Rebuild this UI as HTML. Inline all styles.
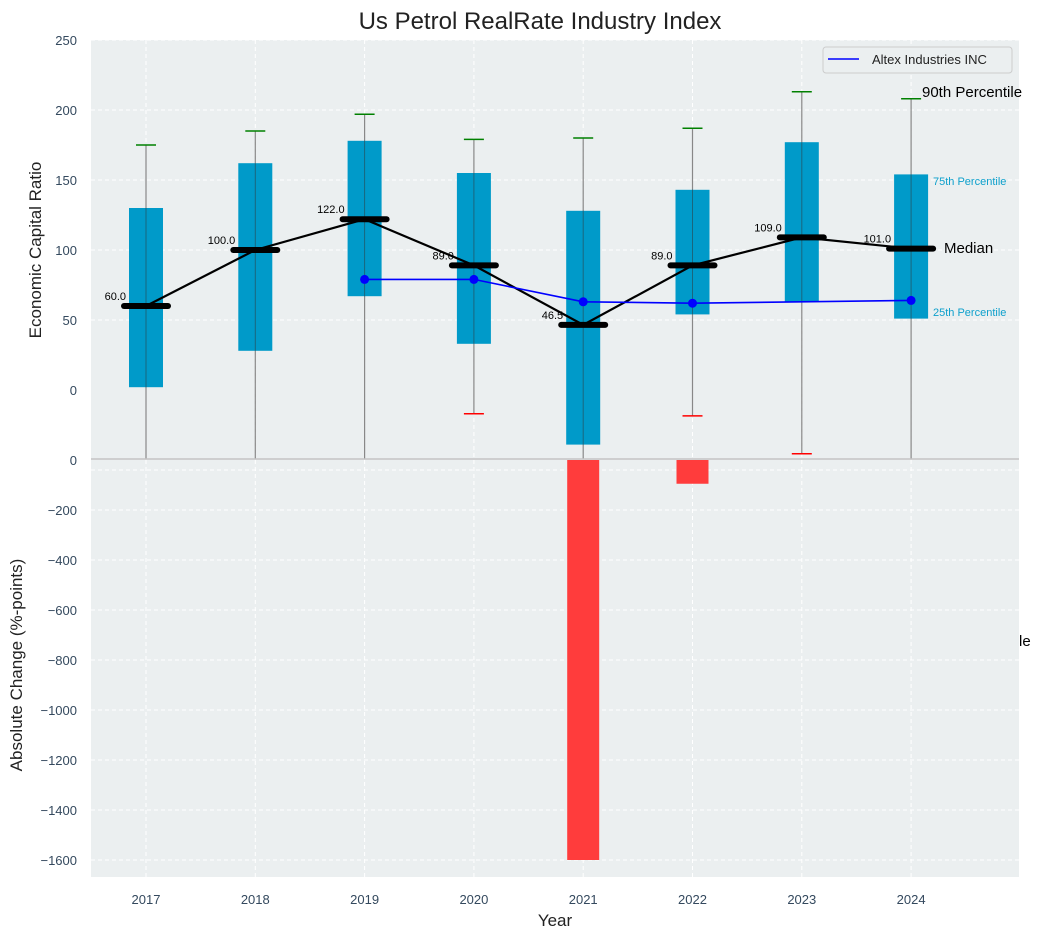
<!DOCTYPE html>
<html><head><meta charset="utf-8"><style>
body{margin:0;background:#fff;}
svg{display:block;font-family:"Liberation Sans",Arial,sans-serif;}
</style></head><body>
<svg id="chart" width="1043" height="940"></svg>
<script>
const years=[2017,2018,2019,2020,2021,2022,2023,2024];
const p25=[2,28,67,33,-39,54,63,51];
const p75=[130,162,178,155,128,143,177,154];
const p90=[175,185,197,179,180,187,213,208];
const p10=[-80,-80,-80,-17,-80,-18.5,-45.5,-80];
const medians=[60,100,122,89,46.5,89,109,101];
const altex=[null,null,79,79,63,62,63,64];
const altexMarker=[false,false,true,true,true,true,false,true];
const changes=[0,0,0,0,-1600,-95,0,0];
const topTicks=[0,50,100,150,200,250];
const botTicks=[0,-200,-400,-600,-800,-1000,-1200,-1400,-1600];

const NS="http://www.w3.org/2000/svg";
const svg=document.getElementById('chart');
function mk(t,a,p){const e=document.createElementNS(NS,t);for(const k in a)e.setAttribute(k,a[k]);(p||svg).appendChild(e);return e;}
const L=91,R=1019,T=40,MID=459,B=877;
const x=i=>146+i*109.3;
const yT=v=>390-v*1.4;
const yB=v=>460-v*0.25;
const defs=mk('defs',{});
const cp=mk('clipPath',{id:'ct'},defs);mk('rect',{x:L,y:T,width:R-L,height:MID-T},cp);
const cb=mk('clipPath',{id:'cb'},defs);mk('rect',{x:L,y:MID,width:R-L,height:B-MID},cb);
let e=mk('rect',{x:L,y:T,width:R-L,height:B-T,fill:'#ebeff0'});

years.forEach((yr,i)=>{mk('line',{x1:x(i),x2:x(i),y1:T,y2:B,stroke:'#fff','stroke-dasharray':'4,3','stroke-width':1});});
topTicks.forEach(v=>{if(v>0)mk('line',{x1:L,x2:R,y1:yT(v),y2:yT(v),stroke:'#fff','stroke-dasharray':'4,3'});
 let t=mk('text',{x:77,y:yT(v)+5,'text-anchor':'end','font-size':13,fill:'#34495e'});t.textContent=v;
 });
mk('line',{x1:L,x2:R,y1:yT(-50)+10,y2:yT(-50)+10,stroke:'#fff','stroke-dasharray':'4,3'});
botTicks.forEach(v=>{if(v<0)mk('line',{x1:L,x2:R,y1:yB(v),y2:yB(v),stroke:'#fff','stroke-dasharray':'4,3'});
 let t=mk('text',{x:77,y:yB(v)+5,'text-anchor':'end','font-size':13,fill:'#34495e'});t.textContent=String(v).replace('-','\u2212');
 });
const gT=mk('g',{'clip-path':'url(#ct)'});
years.forEach((yr,i)=>{
 mk('line',{x1:x(i),x2:x(i),y1:yT(p90[i]),y2:yT(p10[i]),stroke:'#888','stroke-width':1.2},gT);
 e=mk('rect',{x:x(i)-17,y:yT(p75[i]),width:34,height:(p75[i]-p25[i])*1.4,fill:'#009ac9'},gT);
 
 mk('line',{x1:x(i),x2:x(i),y1:yT(p75[i]),y2:yT(p25[i]),stroke:'#333','stroke-width':1,opacity:0.5},gT);
 mk('line',{x1:x(i)-10,x2:x(i)+10,y1:yT(p90[i]),y2:yT(p90[i]),stroke:'green','stroke-width':1.5},gT);
 mk('line',{x1:x(i)-10,x2:x(i)+10,y1:yT(p10[i]),y2:yT(p10[i]),stroke:'red','stroke-width':1.5},gT);
});
let pts=medians.map((m,i)=>x(i)+','+yT(m)).join(' ');
e=mk('polyline',{points:pts,fill:'none',stroke:'#000','stroke-width':2.2},gT);

medians.forEach((m,i)=>{
 mk('line',{x1:x(i)-22,x2:x(i)+22,y1:yT(m),y2:yT(m),stroke:'#000','stroke-width':6,'stroke-linecap':'round'},gT);
 let t=mk('text',{x:x(i)-20,y:yT(m)-6,'text-anchor':'end','font-size':11,fill:'#000'},gT);t.textContent=m.toFixed(1);
 
});
let ap=[];altex.forEach((v,i)=>{if(v!==null)ap.push(x(i)+','+yT(v));});
e=mk('polyline',{points:ap.join(' '),fill:'none',stroke:'#0000ff','stroke-width':1.6},gT);

altex.forEach((v,i)=>{if(v!==null&&altexMarker[i]){e=mk('circle',{cx:x(i),cy:yT(v),r:4.5,fill:'#0000ff'},gT);
 }});
const gB=mk('g',{'clip-path':'url(#cb)'});
changes.forEach((c,i)=>{if(c!==0){const y0=yB(0),y1=yB(c);
 e=mk('rect',{x:x(i)-16,y:Math.min(y0,y1),width:32,height:Math.abs(y1-y0),fill:'#ff3c3c'},gB);
 }});
mk('line',{x1:L,x2:R,y1:MID,y2:MID,stroke:'#c4c4c4','stroke-width':1.5});
years.forEach((yr,i)=>{let t=mk('text',{x:x(i),y:904,'text-anchor':'middle','font-size':13,fill:'#34495e'});t.textContent=yr;
 });
</script>
<svg width="1043" height="940" style="position:absolute;left:0;top:0">
<text x="540" y="29" text-anchor="middle" font-size="24" fill="#222" font-family="Liberation Sans,sans-serif">Us Petrol RealRate Industry Index</text>
<text x="555" y="926" text-anchor="middle" font-size="17" fill="#222" font-family="Liberation Sans,sans-serif">Year</text>
<text transform="translate(41,250) rotate(-90)" text-anchor="middle" font-size="17" fill="#222" font-family="Liberation Sans,sans-serif">Economic Capital Ratio</text>
<text transform="translate(22,665) rotate(-90)" text-anchor="middle" font-size="17" fill="#222" font-family="Liberation Sans,sans-serif">Absolute Change (%-points)</text>
<g font-family="Liberation Sans,sans-serif">
<rect x="823" y="47" width="189" height="26" rx="3" fill="#ebeff0" stroke="#ccc"/>
<line x1="828" x2="859" y1="59" y2="59" stroke="#0000ff" stroke-width="1.6"/>
<text x="872" y="64" font-size="13" fill="#222">Altex Industries INC</text>
</g>
<g font-family="Liberation Sans,sans-serif">
<text x="922" y="97" font-size="15" fill="#000">90th Percentile</text>
<text x="933" y="185" font-size="11" fill="#0ea0cc">75th Percentile</text>
<text x="944" y="253" font-size="15" fill="#000">Median</text>
<text x="933" y="316" font-size="11" fill="#0ea0cc">25th Percentile</text>
<text x="1019" y="646" font-size="15" fill="#000">le</text>
</g>
</svg>
</body></html>
